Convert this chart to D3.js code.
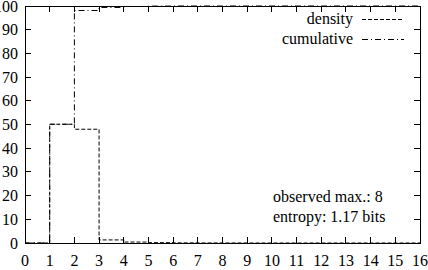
<!DOCTYPE html>
<html>
<head>
<meta charset="utf-8">
<script src="https://cdn.jsdelivr.net/npm/d3@7"></script>
<style>
  body { margin: 0; background: #fff; }
  svg text { font-family: "Liberation Serif", "DejaVu Serif", serif; font-size: 16px; fill: #000; }
</style>
</head>
<body>
<div id="chart"></div>
<script>
// bins 0..16, value holds from x to x+1
var bins = d3.range(0, 17);
var density = [0, 50.1, 48.0, 1.3, 0.4, 0.15, 0.05, 0.02, 0.01, 0, 0, 0, 0, 0, 0, 0, 0];
var cumulative = [0, 50.1, 98.1, 99.4, 99.8, 99.95, 100, 100, 100, 100, 100, 100, 100, 100, 100, 100, 100];
var xTicks = d3.range(0, 17);
var yTicks = [0, 10, 20, 30, 40, 50, 60, 70, 80, 90, 100];
var legendNames = ["density", "cumulative"];
var notes = ["observed max.: 8", "entropy: 1.17 bits"];

(function() {
var W = 428, H = 270;
var pL = 25, pR = 420, pT = 6, pB = 243;

var svg = d3.select("#chart").append("svg")
   .attr("width", W)
   .attr("height", H);

var x = d3.scaleLinear().domain([0, 16]).range([pL, pR]);
var y = d3.scaleLinear().domain([0, 100]).range([pB, pT]);

// ticks inside, mirrored on every side
var tl = 6;
var g = svg.append("g").attr("stroke", "#000").attr("stroke-width", 1).attr("shape-rendering", "crispEdges");
xTicks.forEach(function(t) {
   g.append("line").attr("x1", x(t)).attr("x2", x(t)).attr("y1", pB).attr("y2", pB - tl);
   g.append("line").attr("x1", x(t)).attr("x2", x(t)).attr("y1", pT).attr("y2", pT + tl);
});
yTicks.forEach(function(t) {
   g.append("line").attr("x1", pL).attr("x2", pL + tl).attr("y1", y(t)).attr("y2", y(t));
   g.append("line").attr("x1", pR).attr("x2", pR - tl).attr("y1", y(t)).attr("y2", y(t));
});

// tick labels
svg.selectAll("text.xl").data(xTicks).enter().append("text")
   .attr("class", "xl")
   .attr("x", function(d) { return x(d); })
   .attr("y", 266)
   .attr("text-anchor", "middle")
   .text(function(d) { return d; });
svg.selectAll("text.yl").data(yTicks).enter().append("text")
   .attr("class", "yl")
   .attr("x", 18)
   .attr("y", function(d) { return y(d) + 5.5; })
   .attr("text-anchor", "end")
   .text(function(d) { return d; });

// step lines
var step = d3.line()
   .x(function(d) { return x(d[0]); })
   .y(function(d) { return y(d[1]); })
   .curve(d3.curveStepAfter);

function stepData(vals) {
   var pts = bins.map(function(b, i) { return [b, vals[i]]; });
   // carry last value to right edge
   pts.push([16, vals[vals.length - 1]]);
   return pts;
}

var dashD = "4,2";
var dashC = "6,3,1,3";

svg.append("path")
   .datum(stepData(density))
   .attr("d", step)
   .attr("fill", "none")
   .attr("stroke", "#000")
   .attr("stroke-width", 1)
   .attr("stroke-dasharray", dashD);

svg.append("path")
   .datum(stepData(cumulative))
   .attr("d", step)
   .attr("fill", "none")
   .attr("stroke", "#000")
   .attr("stroke-width", 1)
   .attr("stroke-dasharray", dashC);

// border
svg.append("rect")
   .attr("x", pL).attr("y", pT)
   .attr("width", pR - pL).attr("height", pB - pT)
   .attr("fill", "none").attr("stroke", "#000").attr("stroke-width", 1)
   .attr("shape-rendering", "crispEdges");

// legend
var dashes = [dashD, dashC];
legendNames.forEach(function(name, i) {
   var ly = 24 + i * 20;
   svg.append("text").attr("x", 353).attr("y", ly).attr("text-anchor", "end").text(name);
   svg.append("line")
      .attr("x1", 362).attr("x2", 404)
      .attr("y1", ly - 4.5).attr("y2", ly - 4.5)
      .attr("stroke", "#000").attr("stroke-width", 1)
      .attr("stroke-dasharray", dashes[i]);
});

// notes
notes.forEach(function(n, i) {
   svg.append("text").attr("x", 273).attr("y", 202 + i * 20).text(n);
});
})();
</script>
</body>
</html>
